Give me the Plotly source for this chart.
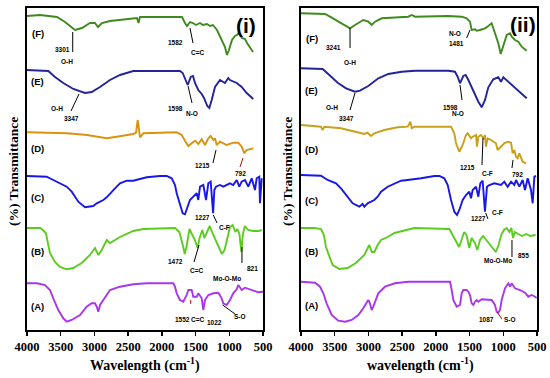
import plotly.graph_objects as go

# ---------------- Panel (i) data: wavenumber (cm-1) and offset transmittance (a.u.) ----------------
wn_i_F = [4000, 3807, 3555, 3436, 3288, 3184, 3066, 2992, 2947, 2888, 2769, 2428, 2369, 2346, 2324, 2027,
          1701, 1657, 1627, 1583, 1538, 1494, 1434, 1390, 1331, 1286, 1242, 1182, 1138, 1064, 1034, 1005,
          960, 916, 886, 856, 812, 767, 737, 693, 648]
t_i_F = [314, 315, 313, 308, 300, 302, 307, 307, 303, 307, 309, 312, 312, 307, 313, 313,
         313, 307, 304, 308, 307, 305, 307, 305, 306, 304, 305, 300, 293, 283, 275, 280,
         290, 294, 295, 297, 292, 291, 287, 283, 278]

wn_i_E = [4000, 3684, 3585, 3462, 3313, 3140, 3041, 2917, 2769, 2621, 2424, 2176, 1731, 1691, 1642, 1617,
          1572, 1538, 1508, 1460, 1409, 1375, 1326, 1296, 1261, 1212, 1138, 1064, 1015, 990, 890, 816, 742, 644]
t_i_E = [260, 259, 253, 247, 241, 237, 238, 243, 250, 255, 259, 259, 259, 257, 248, 245,
         253, 254, 247, 240, 236, 232, 224, 222, 230, 243, 250, 247, 252, 250, 247, 243, 237, 231]

wn_i_D = [4000, 3753, 3407, 3110, 2917, 2818, 2670, 2423, 2383, 2358, 2324, 2275, 1780, 1706, 1657, 1607,
          1558, 1508, 1459, 1409, 1360, 1311, 1276, 1237, 1212, 1187, 1138, 1039, 940, 866, 816, 777, 742, 703, 644]
t_i_D = [197.7, 197.3, 196.7, 195, 192.7, 191.7, 193.3, 196, 197.3, 210, 192.7, 196.7, 197.7, 195, 189.3, 184,
         186.7, 189.3, 186, 190.7, 185, 191.7, 194, 190, 191.7, 185, 188.3, 185, 187.3, 187.3, 183.3, 176.7, 180, 180.7, 181.7]

wn_i_C = [4000, 3708, 3610, 3485, 3411, 3337, 3239, 3140, 3066, 3017, 2966, 2917, 2868, 2818, 2769, 2695,
          2621, 2521, 2424, 2324, 2225, 2028, 1928, 1854, 1805, 1780, 1731, 1691, 1657, 1632, 1583, 1534,
          1483, 1460, 1434, 1385, 1345, 1311, 1276, 1240, 1222, 1197, 1138, 1089, 990, 941, 890, 852,
          816, 767, 718, 668, 619, 594, 555, 545, 519]
t_i_C = [154, 153.3, 150, 146, 143.3, 138.3, 128.3, 122.7, 123.3, 124, 126.7, 128.3, 130, 132.7, 136.7, 141.7,
         146.7, 149.3, 149.3, 150.7, 152.7, 154, 154, 151.7, 145, 136.7, 125, 116.7, 115.7, 120, 130, 133.3,
         136.7, 130, 143.3, 145, 130, 146.7, 148.3, 116.7, 140, 143.3, 145, 143.3, 146.7, 145, 150, 143.3,
         148.3, 150, 143.3, 151.7, 140, 151.7, 153.3, 126.7, 151.7]

wn_i_B = [4000, 3800, 3720, 3660, 3585, 3510, 3411, 3313, 3189, 3066, 2992, 2942, 2892, 2818, 2769, 2621,
          2424, 2275, 1805, 1740, 1690, 1660, 1630, 1590, 1555, 1510, 1470, 1440, 1400, 1370, 1330, 1290,
          1250, 1200, 1150, 1110, 1070, 1030, 990, 950, 910, 880, 850, 821, 800, 770, 720, 650, 560, 520]
t_i_B = [102, 102, 97, 77, 68, 63, 60.7, 62, 67, 75, 82, 75, 80, 90, 87, 93,
         99, 101, 102, 98, 85, 76, 85, 101, 96, 90, 82, 92, 100, 92, 98, 104,
         97, 90, 82, 76, 80, 92, 103, 105, 98, 101, 96, 78, 95, 104, 100, 99, 99, 100]

wn_i_A = [4000, 3852, 3733, 3659, 3610, 3536, 3462, 3411, 3337, 3214, 3115, 3041, 2992, 2966, 2942, 2917,
          2868, 2769, 2621, 2424, 2225, 1830, 1805, 1780, 1731, 1682, 1632, 1607, 1558, 1534, 1483, 1460,
          1409, 1385, 1360, 1311, 1237, 1163, 1113, 1089, 1039, 990, 941, 891, 866, 816, 767, 644, 570, 500]
t_i_A = [46.7, 46.7, 45, 40, 31.7, 20, 11.7, 8.3, 10, 15, 23.3, 26.7, 26.7, 23.3, 18.3, 25,
         30, 40, 43.3, 45.7, 46.7, 46.7, 43.3, 36.7, 30, 28.3, 35, 40, 40, 33.3, 33.3, 36.7,
         31.7, 20, 30, 35, 36.7, 37.3, 31.7, 26.7, 25, 30, 36.7, 40.7, 45, 40, 42.3, 39.3, 37.7, 38.3]

# ---------------- Panel (ii) data ----------------
wn_ii_F = [4000, 3644, 3570, 3471, 3347, 3273, 3199, 3076, 3002, 2951, 2902, 2803, 2409, 2358, 2309, 1816,
           1617, 1543, 1494, 1469, 1419, 1394, 1345, 1320, 1271, 1222, 1172, 1123, 1074, 1038, 999, 949,
           900, 875, 826, 777, 727, 678, 653]
t_ii_F = [316.7, 316, 313.3, 309.3, 304, 301.7, 305, 310, 308.3, 305, 308.3, 311.7, 313.3, 315, 313.3, 314,
          313.3, 311.7, 308.3, 300, 300.7, 299.3, 300, 300.7, 301.7, 304, 306.7, 296.7, 286.7, 276, 285, 295,
          296.7, 293.3, 290, 288.3, 283.3, 280, 279.3]

wn_ii_E = [4000, 3679, 3580, 3456, 3332, 3199, 3125, 3002, 2853, 2705, 2507, 2309, 1816, 1717, 1677, 1642,
           1593, 1558, 1518, 1469, 1419, 1370, 1320, 1271, 1222, 1148, 1074, 1034, 999, 925, 826, 727, 653]
t_ii_E = [261.7, 261, 255, 247.3, 241.7, 238.3, 239.3, 244, 251.7, 256, 258.3, 259.3, 259.3, 258.3, 253.3, 246.7,
          254, 255, 250, 242.7, 235, 228.3, 222.7, 230, 242.7, 250.7, 252.7, 248.3, 252.7, 248.3, 242.7, 236.7, 231.7]

wn_ii_D = [4000, 3704, 3680, 3654, 3407, 3160, 3061, 3012, 2962, 2913, 2764, 2566, 2418, 2378, 2358, 2319,
           1775, 1726, 1701, 1652, 1627, 1602, 1553, 1528, 1479, 1454, 1405, 1390, 1370, 1331, 1292, 1272,
           1257, 1232, 1183, 1109, 1084, 1034, 985, 935, 885, 861, 836, 811, 787, 762, 713, 664]
t_ii_D = [205, 203.3, 200, 203.3, 201.7, 197.3, 196, 197.3, 194, 196.7, 200, 202.7, 203.3, 208.3, 201.7, 203.3,
          203.3, 196.7, 186.7, 178.3, 181.7, 185, 195, 196.7, 191.7, 193.3, 195, 183.3, 193.3, 195, 191.7, 195,
          183.3, 191.7, 190, 186.7, 180, 183.3, 186.7, 188.3, 187.3, 176.7, 180, 173.3, 171.7, 176.7, 168.3, 166.7]

wn_ii_C = [4000, 3704, 3605, 3481, 3407, 3332, 3234, 3135, 3086, 3061, 3012, 2962, 2913, 2863, 2813, 2714,
           2615, 2516, 2418, 2319, 2219, 2022, 1948, 1874, 1824, 1775, 1726, 1686, 1652, 1602, 1553, 1503,
           1479, 1454, 1405, 1370, 1341, 1306, 1272, 1242, 1207, 1133, 1034, 985, 935, 885, 836, 811,
           762, 713, 678, 638, 589, 564, 539, 514]
t_ii_C = [155, 154.3, 150, 146.7, 141.7, 135, 126.7, 123.3, 126, 123.3, 126.7, 128.3, 130, 133.3, 138.3, 143.3,
          146.7, 149.3, 150, 150.7, 151.7, 154, 154, 151.7, 145, 130, 118.3, 115, 120, 130, 135, 138.3,
          131.7, 140, 143.3, 133.3, 146.7, 149.3, 118.3, 143.3, 145, 146.7, 145, 148.3, 143.3, 148.3, 145, 150,
          143.3, 150, 140, 151.7, 140, 126.7, 153.3, 154]

wn_ii_B = [4000, 3800, 3704, 3660, 3630, 3570, 3531, 3431, 3308, 3186, 3061, 2987, 2950, 2913, 2863, 2813,
           2714, 2615, 2418, 2319, 1800, 1750, 1700, 1655, 1620, 1580, 1545, 1505, 1470, 1420, 1385, 1345,
           1300, 1250, 1200, 1150, 1110, 1070, 1030, 990, 950, 910, 880, 855, 830, 780, 720, 660, 600, 520]
t_ii_B = [102, 102, 101, 95, 83, 72, 65, 61, 62, 67, 75, 85, 78, 78, 85, 90,
          93, 97, 100, 102, 101, 95, 88, 83, 90, 98, 95, 82, 92, 87, 80, 90,
          94, 90, 85, 82, 78, 85, 95, 100, 102, 98, 102, 92, 98, 96, 94, 96, 94, 95]

wn_ii_A = [4000, 3792, 3718, 3669, 3620, 3545, 3447, 3347, 3248, 3150, 3076, 3026, 3002, 2977, 2952, 2928,
           2903, 2854, 2754, 2606, 2409, 2013, 1790, 1765, 1741, 1691, 1642, 1617, 1593, 1543, 1518, 1494,
           1469, 1444, 1420, 1395, 1370, 1320, 1222, 1172, 1123, 1098, 1074, 1049, 1024, 975, 925, 900,
           876, 826, 752, 678, 629, 579, 529, 505]
t_ii_A = [48.3, 47.3, 43.3, 36.7, 26.7, 15, 9.3, 8.3, 10, 15, 21.7, 28.3, 30, 26.7, 20, 23.3,
          28.3, 36.7, 43.3, 46.7, 48.3, 48.3, 48.3, 40, 30, 23.3, 25, 36.7, 40, 40, 38.3, 35,
          26.7, 25, 28.3, 30, 28.3, 30.7, 30.7, 30, 25, 18.3, 17.3, 20, 30, 41.7, 46.7, 43.3,
          46.7, 41.7, 40, 37.3, 33.3, 35, 33.3, 32]

tick_vals = [4000, 3500, 3000, 2500, 2000, 1500, 1000, 500]

# ---------------- Figure ----------------
W, H = 550, 378
def fx(X):
    return X / W
def fy(Y):
    return 1 - Y / H

COL = {"F": "#3e8a1d", "E": "#23239a", "Di": "#d8930f", "Dii": "#c9a01c",
       "C": "#1717e8", "B": "#5ccb1f", "A": "#a935ec"}

fig = go.Figure()

def add(wn, t, color, ax):
    fig.add_trace(go.Scatter(x=wn, y=t, mode="lines", line=dict(color=color, width=1.9),
                             xaxis=ax[0], yaxis=ax[1], showlegend=False, hoverinfo="skip"))

p1 = ("x", "y")
p2 = ("x2", "y2")
add(wn_i_F, t_i_F, COL["F"], p1)
add(wn_i_E, t_i_E, COL["E"], p1)
add(wn_i_D, t_i_D, COL["Di"], p1)
add(wn_i_C, t_i_C, COL["C"], p1)
add(wn_i_B, t_i_B, COL["B"], p1)
add(wn_i_A, t_i_A, COL["A"], p1)
add(wn_ii_F, t_ii_F, COL["F"], p2)
add(wn_ii_E, t_ii_E, COL["E"], p2)
add(wn_ii_D, t_ii_D, COL["Dii"], p2)
add(wn_ii_C, t_ii_C, COL["C"], p2)
add(wn_ii_B, t_ii_B, COL["B"], p2)
add(wn_ii_A, t_ii_A, COL["A"], p2)

SERIF = "Liberation Serif"
SANS = "Liberation Sans"

xax = dict(range=[4000, 500], showline=True, mirror=True, linecolor="black", linewidth=1.6,
           ticks="outside", tickvals=tick_vals, ticklen=4, tickwidth=1.4, tickcolor="black",
           tickfont=dict(family=SERIF, size=12.5, color="black", weight="bold"),
           showgrid=False, zeroline=False, fixedrange=True, automargin=False)
yax = dict(range=[0, 322], showline=True, mirror=True, linecolor="black", linewidth=1.6,
           showticklabels=False, ticks="", showgrid=False, zeroline=False, automargin=False,
           fixedrange=True)

ydom = [fy(330), fy(8)]
fig.update_layout(
    width=W, height=H, margin=dict(l=0, r=0, t=0, b=0, autoexpand=False),
    paper_bgcolor="white", plot_bgcolor="white",
    xaxis=dict(domain=[fx(27), fx(263)], anchor="y", **xax),
    yaxis=dict(domain=ydom, anchor="x", **yax),
    xaxis2=dict(domain=[fx(301), fx(537)], anchor="y2", **xax),
    yaxis2=dict(domain=ydom, anchor="x2", **yax),
)

ann = []
def txt(xr, yr, x, y, s, size=6.5, color="black", family=SANS):
    ann.append(dict(xref=xr, yref=yr, x=x, y=y, text=s, showarrow=False,
                    font=dict(family=family, size=size, color=color, weight="bold"),
                    xanchor="center", yanchor="middle"))

shapes = []
def seg(xr, yr, x0, y0, x1, y1, color="black"):
    shapes.append(dict(type="line", xref=xr, yref=yr, x0=x0, y0=y0, x1=x1, y1=y1,
                       line=dict(color=color, width=1)))

# panel (i) labels
for lab, yv in [("(F)", 297), ("(E)", 249), ("(D)", 182), ("(C)", 133), ("(B)", 79), ("(A)", 24)]:
    txt("x", "y", 3840, yv, lab, size=9.5)
txt("x", "y", 752, 305, "(i)", size=21)
txt("x", "y", 3481, 281, "3301"); seg("x", "y", 3322, 298, 3322, 278)
txt("x", "y", 3407, 269, "O-H")
txt("x", "y", 1805, 288, "1582"); seg("x", "y", 1583, 302, 1538, 287)
txt("x", "y", 1470, 278, "C=C")
txt("x", "y", 3555, 222, "O-H"); seg("x", "y", 3229, 236, 3347, 219)
txt("x", "y", 3333, 212, "3347")
txt("x", "y", 1805, 222, "1598"); seg("x", "y", 1612, 244, 1553, 227)
txt("x", "y", 1553, 217, "N-O")
txt("x", "y", 1390, 165, "1215"); seg("x", "y", 1197, 180, 1242, 167)
txt("x", "y", 841, 157, "792"); seg("x", "y", 797, 172, 841, 163, color="#b01010")
txt("x", "y", 1390, 113, "1227"); seg("x", "y", 1237, 115, 1182, 107)
txt("x", "y", 1064, 103, "C-F")
txt("x", "y", 1805, 69, "1472"); seg("x", "y", 1449, 85, 1523, 68)
txt("x", "y", 1479, 60, "C=C")
txt("x", "y", 1034, 52, "Mo-O-Mo")
txt("x", "y", 663, 62, "821"); seg("x", "y", 812, 83, 812, 67)
txt("x", "y", 1690, 11, "1552"); seg("x", "y", 1572, 30, 1572, 26, color="#c01010")
txt("x", "y", 1470, 11, "C=C")
txt("x", "y", 1215, 8, "1022"); seg("x", "y", 1098, 25, 915, 16)
txt("x", "y", 841, 14, "S-O")

# panel (ii) labels
for lab, yv in [("(F)", 292), ("(E)", 240), ("(D)", 181), ("(C)", 130), ("(B)", 79), ("(A)", 25)]:
    txt("x2", "y2", 3837, yv, lab, size=9.5)
txt("x2", "y2", 707, 306, "(ii)", size=21)
txt("x2", "y2", 3511, 283, "3241"); seg("x2", "y2", 3273, 302, 3273, 282)
txt("x2", "y2", 3273, 268, "O-H")
txt("x2", "y2", 1716, 297, "N-O")
txt("x2", "y2", 1687, 287, "1481"); seg("x2", "y2", 1494, 300, 1543, 292)
txt("x2", "y2", 3540, 223, "O-H"); seg("x2", "y2", 3199, 237, 3273, 220)
txt("x2", "y2", 3318, 212, "3347")
txt("x2", "y2", 1790, 223, "1598"); seg("x2", "y2", 1642, 245, 1612, 230)
txt("x2", "y2", 1672, 217, "N-O")
txt("x2", "y2", 1538, 163, "1215")
txt("x2", "y2", 1227, 157, "C-F"); seg("x2", "y2", 1301, 192, 1316, 165)
txt("x2", "y2", 782, 156, "792"); seg("x2", "y2", 856, 170, 871, 162)
txt("x2", "y2", 1375, 112, "1227"); seg("x2", "y2", 1261, 117, 1227, 111)
txt("x2", "y2", 1093, 118, "C-F")
txt("x2", "y2", 1078, 70, "Mo-O-Mo")
txt("x2", "y2", 693, 75, "855"); seg("x2", "y2", 871, 90, 871, 73)
txt("x2", "y2", 1242, 11, "1087"); seg("x2", "y2", 1093, 18, 1019, 11, color="#b01010")
txt("x2", "y2", 900, 11, "S-O")

# axis titles
ttl = dict(family=SERIF, size=14, color="black", weight="bold")
ann.append(dict(xref="paper", yref="paper", x=fx(145), y=fy(364), showarrow=False,
                text="Wavelength (cm<sup>-1</sup>)", font=ttl, xanchor="center", yanchor="middle"))
ann.append(dict(xref="paper", yref="paper", x=fx(420), y=fy(364), showarrow=False,
                text="wavelength (cm<sup>-1</sup>)", font=ttl, xanchor="center", yanchor="middle"))
ytl = dict(family=SERIF, size=13.5, color="black", weight="bold")
ann.append(dict(xref="paper", yref="paper", x=fx(13), y=fy(172), showarrow=False, textangle=-90,
                text="(%) Transmittance", font=ytl, xanchor="center", yanchor="middle"))
ann.append(dict(xref="paper", yref="paper", x=fx(287), y=fy(172), showarrow=False, textangle=-90,
                text="(%) Transmittance", font=ytl, xanchor="center", yanchor="middle"))

fig.update_layout(annotations=ann, shapes=shapes)
# remove the browser's default 8px body margin so the figure sits at the window origin
fig.write_html("out.html", config={"displayModeBar": False, "staticPlot": True},
               post_script="document.body.style.margin='0px';")
